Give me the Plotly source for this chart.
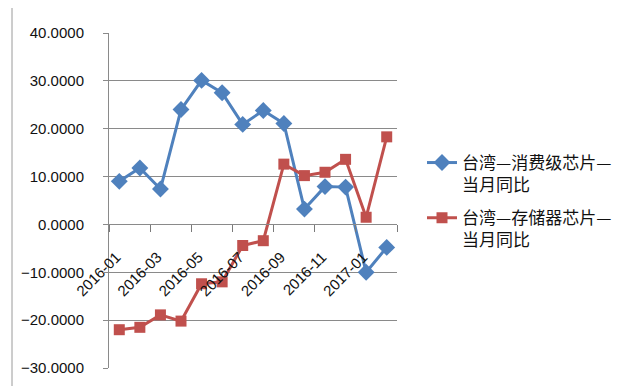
import plotly.graph_objects as go

months = ["2016-01", "2016-02", "2016-03", "2016-04", "2016-05", "2016-06", "2016-07",
          "2016-08", "2016-09", "2016-10", "2016-11", "2016-12", "2017-01", "2017-02"]
consumer = [9.0, 11.8, 7.4, 24.0, 30.1, 27.5, 20.9, 23.8, 21.1, 3.2, 7.9, 7.8, -10.0, -4.8]
storage = [-22.0, -21.5, -18.9, -20.2, -12.4, -12.0, -4.4, -3.4, 12.6, 10.2, 10.9, 13.6, 1.5, 18.3]
name_consumer = "台湾—消费级芯片—<br>当月同比"
name_storage = "台湾—存储器芯片—<br>当月同比"

x_idx = list(range(len(months)))
label_idx = x_idx[::2]
label_text = months[::2]
boundary_idx = [i - 0.5 for i in x_idx[::2]] + [len(months) - 0.5]

W, H = 640, 386
ML, MR, MT, MB = 101, 251, 25, 26
PW, PH = W - ML - MR, H - MT - MB
YMIN, YMAX = -30, 40

def px_x(p):
    return (p - ML) / PW

def px_y(p):
    return 1 - (p - MT) / PH

BLUE = "#4F81BD"
RED = "#C0504D"
GRID = "#8a8a8a"
FONT = "Liberation Sans"

fig = go.Figure()
fig.add_trace(go.Scatter(x=x_idx, y=consumer, name=name_consumer, mode="lines+markers",
                         line=dict(color=BLUE, width=3),
                         marker=dict(symbol="diamond", size=13, color=BLUE),
                         legendgroup="a"))
fig.add_trace(go.Scatter(x=x_idx, y=storage, name=name_storage, mode="lines+markers",
                         line=dict(color=RED, width=3),
                         marker=dict(symbol="square", size=11, color=RED),
                         legendgroup="b"))

fig.update_layout(
    width=W, height=H,
    margin=dict(l=ML, r=MR, t=MT, b=MB, pad=0, autoexpand=False),
    paper_bgcolor="white", plot_bgcolor="white",
    font=dict(family=FONT, size=15, color="#111111"),
    showlegend=True,
    legend=dict(x=px_x(414), xanchor="left", y=px_y(137), yanchor="top",
                font=dict(family="Noto Sans CJK SC", size=17, color="#111111"),
                valign="top", tracegroupgap=8, bgcolor="rgba(0,0,0,0)"),
    xaxis=dict(range=[-0.5, len(months) - 0.5], tickmode="array", tickvals=label_idx,
               ticktext=label_text, tickangle=-45, ticks="", showgrid=False,
               zeroline=False, showline=True, linecolor=GRID, linewidth=1,
               anchor="free", position=(0 - YMIN) / (YMAX - YMIN), automargin=False,
               ticklabelstandoff=17, ticklabelshift=-3,
               tickfont=dict(family=FONT, size=15, color="#111111"),
               minor=dict(tickmode="array", tickvals=boundary_idx, ticks="outside",
                          ticklen=7, tickcolor="#7a7a7a", tickwidth=1, showgrid=False)),
    yaxis=dict(range=[YMIN, YMAX], dtick=10, tick0=0, tickformat=".4f",
               showgrid=True, gridcolor=GRID, gridwidth=1, zeroline=False,
               showline=True, linecolor=GRID, linewidth=1, automargin=False,
               ticks="outside", ticklen=5, tickcolor=GRID,
               ticklabelstandoff=16,
               tickfont=dict(family=FONT, size=15, color="#111111")),
    shapes=[dict(type="rect", xref="paper", yref="paper",
                 x0=px_x(4), x1=px_x(636), y0=px_y(382), y1=px_y(-5),
                 line=dict(color="#9a9a9a", width=1), fillcolor="rgba(0,0,0,0)",
                 layer="below")],
)

fig.write_html("out.html")
